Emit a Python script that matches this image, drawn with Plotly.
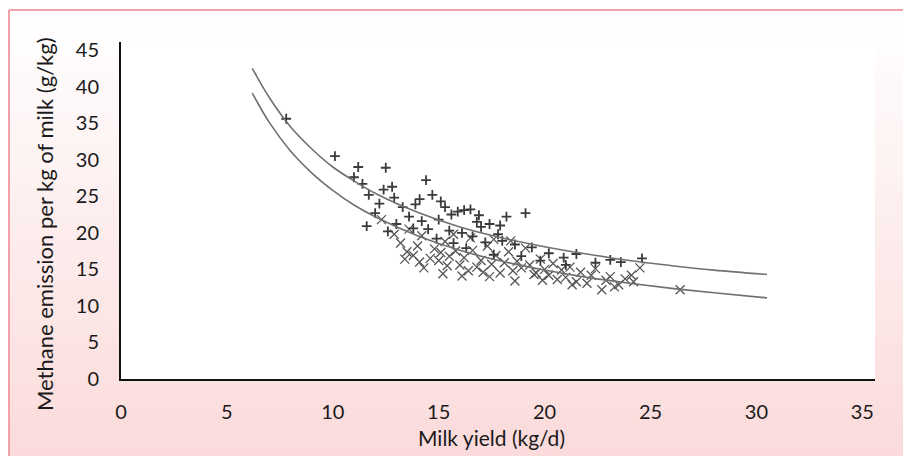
import plotly.graph_objects as go

# Fitted curves
curve_x = [6.2, 7, 8, 9, 10, 11, 12, 14, 16, 18, 20, 22, 24, 26, 28, 30.5]
upper_y = [42.5, 38.5, 34.5, 31.5, 29.0, 27.1, 25.4, 22.8, 20.8, 19.3, 18.1, 17.1, 16.2, 15.5, 14.9, 14.3]
lower_y = [39.1, 35.1, 31.2, 28.2, 25.8, 23.8, 22.2, 19.6, 17.6, 16.1, 14.9, 13.9, 13.1, 12.4, 11.8, 11.1]

# "+" series
plus_x = [7.8, 10.1, 11.2, 11.0, 11.4, 11.7, 12.5, 11.6, 12.6, 12.4, 12.8, 12.9, 13.3, 13.6, 13.9,
          14.4, 14.7, 15.1, 15.3, 14.2, 14.5, 15.0, 15.6, 15.9, 16.2, 16.5, 16.9, 15.5, 16.1, 16.6,
          17.0, 17.4, 17.8, 18.2, 19.1, 17.2, 18.0, 18.6, 19.4, 20.2, 20.9, 21.5, 22.4, 23.1, 23.6,
          24.6, 13.0, 13.8, 14.9, 15.7, 16.3, 17.6, 18.9, 19.8, 21.0, 16.8, 17.9, 14.1, 12.2, 12.0]
plus_y = [35.6, 30.5, 29.0, 27.6, 26.7, 25.2, 28.9, 20.9, 20.2, 25.9, 26.3, 24.8, 23.5, 22.2, 23.9,
          27.2, 25.2, 24.3, 23.5, 21.6, 20.5, 21.8, 22.5, 22.9, 23.1, 23.2, 22.4, 20.3, 20.0, 19.5,
          20.8, 21.2, 19.8, 22.2, 22.7, 18.7, 18.9, 18.4, 18.0, 17.2, 16.6, 17.1, 15.9, 16.3, 16.0,
          16.5, 21.2, 20.6, 19.2, 18.6, 17.9, 17.0, 16.8, 16.2, 15.6, 21.5, 21.0, 24.6, 24.0, 22.7]

# "x" series
cross_x = [12.3, 12.9, 13.2, 13.5, 13.8, 14.0, 14.3, 14.6, 14.8, 15.0, 15.1, 15.3, 15.4, 15.5, 15.8,
           16.0, 16.2, 16.4, 16.6, 16.8, 17.0, 17.1, 17.3, 17.5, 17.7, 17.9, 18.1, 18.3, 18.5, 18.7,
           18.9, 19.1, 19.3, 19.5, 19.6, 19.8, 20.0, 20.2, 20.4, 20.6, 20.8, 21.0, 21.2, 21.5, 21.7,
           22.0, 22.2, 22.4, 22.7, 22.9, 23.1, 23.3, 23.5, 23.8, 24.1, 24.5, 24.2, 26.4, 13.6, 14.2,
           15.7, 16.5, 17.6, 18.4, 14.1, 13.4, 16.1, 17.4, 15.2, 19.9, 21.3, 18.6]
cross_y = [21.8, 19.8, 18.6, 17.4, 16.9, 18.2, 15.2, 16.5, 17.8, 16.2, 17.3, 18.8, 15.5, 16.8, 17.5,
           15.6, 16.6, 14.8, 17.6, 15.3, 16.2, 14.6, 18.2, 15.7, 16.9, 14.5, 15.9, 17.4, 14.8, 16.1,
           15.2, 17.9, 15.6, 14.3, 14.5, 16.4, 15.0, 14.2, 15.8, 13.6, 14.9, 13.9, 15.3, 13.3, 14.6,
           13.1, 14.2, 15.1, 12.2, 13.5, 14.0, 12.6, 12.9, 13.7, 14.2, 15.2, 13.3, 12.2, 20.5, 19.6,
           19.8, 19.3, 19.1, 18.9, 16.0, 16.4, 14.1, 14.0, 14.4, 13.5, 12.9, 13.4]

x_ticks = [0, 5, 10, 15, 20, 25, 30, 35]
y_ticks = [0, 5, 10, 15, 20, 25, 30, 35, 40, 45]

FONT = "Lato"
W, H = 911, 456
OFF = 8  # page offset of the figure (body margin)
# plot area in page pixels
PL, PR, PT, PB = 121, 875, 42, 379
L, T = PL - OFF, PT - OFF
R, B = W - (PR - OFF), H - (PB - OFF)
PW, PH = W - L - R, H - T - B

fig = go.Figure()
fig.add_trace(go.Scatter(x=cross_x, y=cross_y, mode="markers",
                         marker=dict(symbol="x-thin", size=9, line=dict(color="#555555", width=1.3)),
                         showlegend=False))
fig.add_trace(go.Scatter(x=plus_x, y=plus_y, mode="markers",
                         marker=dict(symbol="cross-thin", size=7, line=dict(color="#3a3a3a", width=1.8)),
                         showlegend=False))
fig.add_trace(go.Scatter(x=curve_x, y=upper_y, mode="lines", line=dict(color="#707070", width=1.6, shape="spline"),
                         showlegend=False))
fig.add_trace(go.Scatter(x=curve_x, y=lower_y, mode="lines", line=dict(color="#707070", width=1.6, shape="spline"),
                         showlegend=False))

def px_x(p):  # page px -> paper
    return (p - OFF - L) / PW

def px_y(p):
    return (H - B - (p - OFF)) / PH

# background gradient stripes (white top -> pink bottom)
shapes = []
n = 46
top = (255, 255, 255)
bot = (251, 218, 218)
for i in range(n):
    t = i / (n - 1)
    c = tuple(int(round(top[k] + (bot[k] - top[k]) * t)) for k in range(3))
    y1 = OFF + i * H / n - (10 if i == 0 else 0)
    y0 = OFF + (i + 1) * H / n + 1
    shapes.append(dict(type="rect", xref="paper", yref="paper",
                       x0=px_x(-5), x1=px_x(930), y0=px_y(y0), y1=px_y(y1),
                       fillcolor="rgb(%d,%d,%d)" % c, line=dict(width=0), layer="below"))
# white plot area
shapes.append(dict(type="rect", xref="x", yref="y", x0=0, x1=35.6, y0=0, y1=46.1,
                   fillcolor="white", line=dict(width=0), layer="below"))
# pink frame (top, left, right edges)
FR = "#f2a0aa"
shapes.append(dict(type="line", xref="paper", yref="paper", x0=px_x(9), x1=px_x(906), y0=px_y(10), y1=px_y(10),
                   line=dict(color=FR, width=2), layer="below"))
shapes.append(dict(type="line", xref="paper", yref="paper", x0=px_x(9), x1=px_x(9), y0=px_y(10), y1=px_y(470),
                   line=dict(color=FR, width=2), layer="below"))
shapes.append(dict(type="line", xref="paper", yref="paper", x0=px_x(906), x1=px_x(906), y0=px_y(10), y1=px_y(470),
                   line=dict(color=FR, width=2), layer="below"))

annotations = [
    dict(text="Milk yield (kg/d)", xref="paper", yref="paper", x=px_x(491), y=px_y(437),
         showarrow=False, xanchor="center", yanchor="middle", font=dict(size=21)),
    dict(text="Methane emission per kg of milk (g/kg)", xref="paper", yref="paper",
         x=px_x(44), y=px_y(224), textangle=-90,
         showarrow=False, xanchor="center", yanchor="middle", font=dict(size=22)),
]

fig.update_layout(
    width=W, height=H,
    margin=dict(l=L, r=R, t=T, b=B, autoexpand=False),
    paper_bgcolor="white", plot_bgcolor="white",
    shapes=shapes, annotations=annotations,
    font=dict(family=FONT, color="#1a1a1a", size=19),
    xaxis=dict(range=[0, 35.6], tickvals=x_ticks, ticktext=[str(v) for v in x_ticks],
               showgrid=False, zeroline=False, showline=True, linecolor="#111111", linewidth=2,
               ticks="", ticklabelstandoff=14, tickfont=dict(size=20), automargin=False),
    yaxis=dict(range=[0, 46.1], tickvals=y_ticks, ticktext=[str(v) for v in y_ticks],
               showgrid=False, zeroline=False, showline=True, linecolor="#111111", linewidth=2,
               ticks="", ticklabelstandoff=16, tickfont=dict(size=20), automargin=False),
)

fig.write_html("out.html")
